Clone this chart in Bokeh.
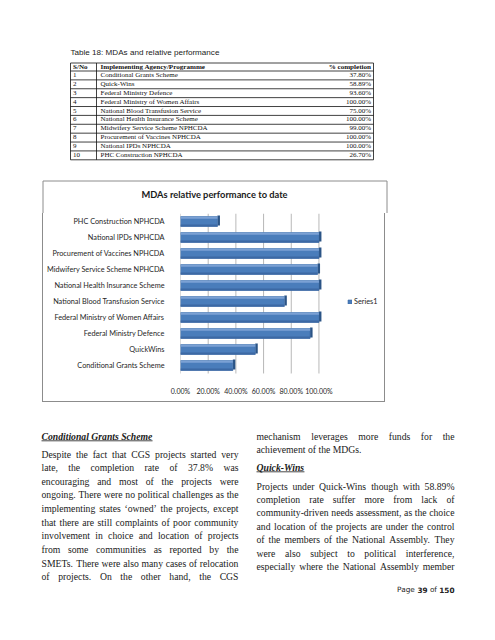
from bokeh.plotting import figure
from bokeh.models import (Range1d, ColumnDataSource, FixedTicker, NumeralTickFormatter,
                          Legend, LegendItem, Spacer)
from bokeh.layouts import column, row
from bokeh.transform import dodge
from bokeh.embed import file_html
from bokeh.resources import INLINE
from bokeh.core.properties import value

# ---------------- data ----------------
table_title = "Table 18: MDAs and relative performance"
table_headers = ["S/No", "Implementing Agency/Programme", "% completion"]
table_sno = [1, 2, 3, 4, 5, 6, 7, 8, 9, 10]
table_agencies = ["Conditional Grants Scheme", "Quick-Wins", "Federal Ministry Defence",
                  "Federal Ministry of Women Affairs", "National Blood Transfusion Service",
                  "National Health Insurance Scheme", "Midwifery Service Scheme NPHCDA",
                  "Procurement of Vaccines NPHCDA", "National IPDs NPHCDA",
                  "PHC Construction NPHCDA"]
table_completion = [37.80, 58.89, 93.60, 100.00, 75.00, 100.00, 99.00, 100.00, 100.00, 26.70]

chart_title = "MDAs relative performance to date"
chart_categories = ["Conditional Grants Scheme", "QuickWins", "Federal Ministry Defence",
                    "Federal Ministry of Women Affairs", "National Blood Transfusion Service",
                    "National Health Insurance Scheme", "Midwifery Service Scheme NPHCDA",
                    "Procurement of Vaccines NPHCDA", "National IPDs NPHCDA",
                    "PHC Construction NPHCDA"]
chart_values = [0.378, 0.54, 0.936, 1.0, 0.75, 1.0, 0.99, 1.0, 1.0, 0.267]
chart_ticks = [0.0, 0.2, 0.4, 0.6, 0.8, 1.0]
series_name = "Series1"

heading_left = "Conditional Grants Scheme"
lines_left = [
    "Despite the fact that CGS projects started very",
    "late, the completion rate of 37.8% was",
    "encouraging and most of the projects were",
    "ongoing. There were no political challenges as the",
    "implementing states \u2018owned\u2019 the projects, except",
    "that there are still complaints of poor community",
    "involvement in choice and location of projects",
    "from some communities as reported by the",
    "SMETs. There were also many cases of relocation",
    "of projects. On the other hand, the CGS",
]
lines_right_top = [
    "mechanism leverages more funds for the",
    "achievement of the MDGs.",
]
heading_right = "Quick-Wins"
lines_right = [
    "Projects under Quick-Wins though with 58.89%",
    "completion rate suffer more from lack of",
    "community-driven needs assessment, as the choice",
    "and location of the projects are under the control",
    "of the members of the National Assembly. They",
    "were also subject to political interference,",
    "especially where the National Assembly member",
]
page_parts = ["Page", "39", "of", "150"]

# ---------------- font metrics (Times, per 1000 em) ----------------
TR = dict(zip("ABCDEFGHIJKLMNOPQRSTUVWXYZ",
              [722, 667, 667, 722, 611, 556, 722, 722, 333, 389, 722, 611, 889, 722, 722, 556,
               722, 667, 556, 611, 722, 722, 944, 722, 722, 611]))
TR.update(zip("abcdefghijklmnopqrstuvwxyz",
              [444, 500, 444, 500, 444, 333, 500, 500, 278, 278, 500, 278, 778, 500, 500, 500,
               500, 333, 389, 278, 500, 500, 722, 500, 500, 444]))
TR.update({c: 500 for c in "0123456789"})
TR.update({" ": 250, ".": 250, ",": 250, "%": 833, "-": 333, "\u2018": 333, "\u2019": 333,
           ":": 278, "/": 278})
BI = dict(zip("ABCDEFGHIJKLMNOPQRSTUVWXYZ",
              [667, 667, 667, 722, 667, 667, 722, 778, 389, 500, 667, 611, 889, 722, 722, 611,
               722, 667, 556, 611, 722, 667, 889, 667, 611, 611]))
BI.update(zip("abcdefghijklmnopqrstuvwxyz",
              [500, 500, 444, 500, 444, 333, 500, 556, 278, 278, 500, 278, 778, 556, 500, 500,
               500, 389, 389, 278, 556, 444, 667, 500, 444, 389]))
BI.update({" ": 250, "-": 333})


def tw(s, table, fs):
    return sum(table.get(c, 500) for c in s) / 1000.0 * fs


W = 495
TXT = "#1a1a1a"
BOX = "#8c8c8c"
BORDER = "1px solid " + BOX


def page_fig(x0, x1, y0, y1):
    p = figure(width=x1 - x0, height=y1 - y0, x_range=Range1d(x0, x1), y_range=Range1d(y1, y0),
               x_axis_type=None, y_axis_type=None, output_backend="svg",
               toolbar_location=None, min_border=0)
    p.outline_line_color = None
    p.background_fill_color = "white"
    p.border_fill_color = "white"
    return p


# ---------------- top: table + chart title strip ----------------
top = page_fig(0, W, 0, 213)
top.text(x=[70], y=[52], text=[table_title], text_font=value("Liberation Sans"),
         text_font_size="8.1px", text_baseline="middle", text_color="#222222")

tx0, tx1, tsep = 70, 373, 96
ty0, th, rh = 62.5, 70.5, 8.88
nrows = len(table_sno)
ty1 = th + nrows * rh
hx0, hx1, hy0, hy1 = [], [], [], []
for yy in [ty0] + [th + i * rh for i in range(nrows + 1)]:
    hx0.append(tx0); hx1.append(tx1); hy0.append(yy); hy1.append(yy)
top.segment(x0=hx0, y0=hy0, x1=hx1, y1=hy1, line_color="#111111", line_width=0.8)
top.segment(x0=[tx0, tsep, tx1], y0=[ty0] * 3, x1=[tx0, tsep, tx1], y1=[ty1] * 3,
            line_color="#111111", line_width=0.8)

hy = (ty0 + th) / 2 - 0.4
top.text(x=[72.5, 100], y=[hy, hy], text=table_headers[:2], text_font=value("Liberation Serif"),
         text_font_style="bold", text_font_size="7.1px", text_baseline="middle",
         text_color="#111111")
top.text(x=[370.5], y=[hy], text=[table_headers[2]], text_font=value("Liberation Serif"),
         text_font_style="bold", text_font_size="7.1px", text_baseline="middle",
         text_align="right", text_color="#111111")
row_y = [th + (i + 0.5) * rh - 0.4 for i in range(nrows)]
top.text(x=[72.5] * nrows, y=row_y, text=[str(s) for s in table_sno],
         text_font=value("Liberation Serif"), text_font_size="7px", text_baseline="middle",
         text_color="#111111")
top.text(x=[100] * nrows, y=row_y, text=table_agencies,
         text_font=value("Liberation Serif"), text_font_size="7px", text_baseline="middle",
         text_color="#111111")
top.text(x=[370.5] * nrows, y=row_y, text=[f"{v:.2f}%" for v in table_completion],
         text_font=value("Liberation Serif"), text_font_size="7px", text_baseline="middle",
         text_align="right", text_color="#111111")

# chart box: upper part of the frame + title
bx0, bx1, by0 = 42.5, 386.5, 180.5
top.segment(x0=[bx0, bx0, bx1], y0=[by0, by0, by0], x1=[bx1, bx0, bx1], y1=[by0, 213, 213],
            line_color=BOX, line_width=1)
top.text(x=[214], y=[194], text=[chart_title], text_font=value("Lato"),
         text_font_style="bold", text_font_size="9.3px", text_align="center",
         text_baseline="middle", text_color="#1a1a1a")

# ---------------- chart plot (canvas 43..386 x 213..402) ----------------
n = len(chart_categories)
ypos = list(range(n))
cp = figure(width=343, height=189, x_range=Range1d(0, 1.488), y_range=Range1d(-0.5, n - 0.5),
            output_backend="svg", toolbar_location=None,
            min_border_left=135, min_border_right=0, min_border_top=0, min_border_bottom=29)
cp.styles = {"border-left": BORDER, "border-right": BORDER, "border-bottom": BORDER}
cp.outline_line_color = None
cp.background_fill_color = "white"
cp.border_fill_color = "white"
cp.xgrid.visible = False
cp.ygrid.visible = False

# back-wall gridlines and 3-D floor edges
cp.segment(x0=chart_ticks, x1=chart_ticks, y0=[-0.5] * len(chart_ticks),
           y1=[n - 0.5] * len(chart_ticks), line_color="#a6a6a6", line_width=0.8)
cp.segment(x0=chart_ticks, x1=[t - 0.025 for t in chart_ticks], y0=[-0.5] * len(chart_ticks),
           y1=[-0.78] * len(chart_ticks), line_color="#a6a6a6", line_width=0.8)

src = ColumnDataSource(dict(y=ypos, val=chart_values,
                            side=[v + 0.018 for v in chart_values]))
cp.hbar(y=dodge("y", 0.06), left="val", right="side", height=0.62,
        source=src, fill_color="#2B5486", line_color=None)
front = cp.hbar(y="y", left=0, right="val", height=0.62, source=src,
                fill_color="#4A7DBB", line_color="#3B6AA5", line_width=0.6)
cp.hbar(y=dodge("y", 0.24), left=0, right="val", height=0.13, source=src,
        fill_color="#7BA1D4", line_color=None)
cp.hbar(y=dodge("y", -0.25), left=0, right="val", height=0.11, source=src,
        fill_color="#3C69A4", line_color=None)

cp.xaxis.ticker = FixedTicker(ticks=chart_ticks)
cp.xaxis.formatter = NumeralTickFormatter(format="0.00%")
cp.yaxis.ticker = FixedTicker(ticks=ypos)
cp.yaxis.major_label_overrides = {i: c for i, c in zip(ypos, chart_categories)}
for ax in (cp.xaxis[0], cp.yaxis[0]):
    ax.axis_line_color = None
    ax.major_tick_line_color = None
    ax.minor_tick_line_color = None
    ax.major_label_text_font = "Lato"
    ax.major_label_text_color = "#262626"
    ax.major_label_standoff = 10
cp.xaxis[0].major_label_standoff = 7
cp.xaxis.major_label_text_font_size = "7px"
cp.yaxis.major_label_text_font_size = "7.3px"

legend = Legend(items=[LegendItem(label=series_name, renderers=[front])], location=(167, 67),
                padding=0, margin=0, spacing=0, glyph_width=5, glyph_height=5,
                label_standoff=2, border_line_color=None, background_fill_alpha=0,
                label_text_font_size="7.3px", label_text_font="Lato",
                label_text_color="#262626", label_height=8)
cp.add_layout(legend, "center")

# ---------------- bottom: text ----------------
bot = page_fig(0, W, 403, 638)
FS = 9.7
wx, wy, wt = [], [], []


def place(line, x0, x1, y, justify):
    words = line.split(" ")
    widths = [tw(w, TR, FS) for w in words]
    if justify and len(words) > 1:
        gap = (x1 - x0 - sum(widths)) / (len(words) - 1)
    else:
        gap = tw(" ", TR, FS)
    x = x0
    for w, ww in zip(words, widths):
        wx.append(x); wy.append(y); wt.append(w)
        x += ww + gap


LX0, LX1, RX0, RX1 = 41, 238, 256, 454
for i, ln in enumerate(lines_left):
    place(ln, LX0, LX1, 453.5 + i * 13.65, True)
place(lines_right_top[0], RX0, RX1, 435.5, True)
place(lines_right_top[1], RX0, RX1, 449.0, False)
for i, ln in enumerate(lines_right):
    place(ln, RX0, RX1, 485.5 + i * 13.4, True)

bot.text(x=wx, y=wy, text=wt, text_font=value("Liberation Serif"), text_font_size=f"{FS}px",
         text_baseline="middle", text_color=TXT)

heads = [(heading_left, LX0, 436.0), (heading_right, RX0, 467.0)]
bot.text(x=[h[1] for h in heads], y=[h[2] for h in heads], text=[h[0] for h in heads],
         text_font=value("Liberation Serif"), text_font_style="bold italic",
         text_font_size=f"{FS}px", text_baseline="middle", text_color=TXT)
bot.segment(x0=[h[1] for h in heads], y0=[h[2] + 4.3 for h in heads],
            x1=[h[1] + tw(h[0], BI, FS) for h in heads], y1=[h[2] + 4.3 for h in heads],
            line_color=TXT, line_width=0.8)

# page number (Verdana-like)
DV = {"P": 0.603, "a": 0.613, "g": 0.635, "e": 0.615, "o": 0.612, "f": 0.352}
PFS = 7.3
sp = 0.318 * PFS
pw = [sum(DV.get(c, 0.636) for c in page_parts[0]) * PFS, 0.696 * 2 * PFS,
      sum(DV.get(c, 0.6) for c in page_parts[2]) * PFS, 0.696 * 3 * PFS]
px = 454 - (sum(pw) + 3 * sp)
pxs = []
for w in pw:
    pxs.append(px)
    px += w + sp
bot.text(x=[pxs[0], pxs[2]], y=[589, 589], text=[page_parts[0], page_parts[2]],
         text_font=value("DejaVu Sans"), text_font_size=f"{PFS}px", text_baseline="middle",
         text_color="#222222")
bot.text(x=[pxs[1], pxs[3]], y=[589, 589], text=[page_parts[1], page_parts[3]],
         text_font=value("DejaVu Sans"), text_font_style="bold", text_font_size=f"{PFS}px",
         text_baseline="middle", text_color="#222222")

layout = column(top, row(Spacer(width=42, height=190), cp, spacing=0), bot, spacing=0)
open("out.html", "w").write(file_html(layout, INLINE))
